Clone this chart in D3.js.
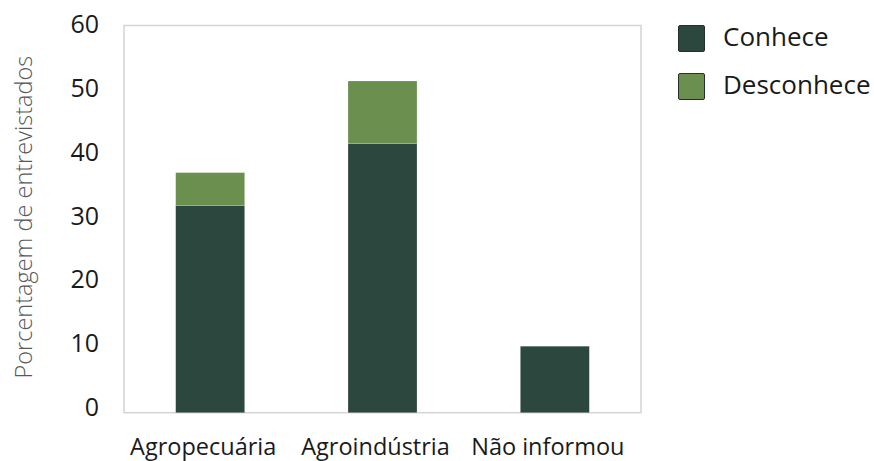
<html>
<head>
  <meta charset="utf-8">
  <script src="https://cdn.jsdelivr.net/npm/d3@7"></script>
  <style>
    body { margin: 0; background: #fff; }
    text { font-family: "Open Sans", sans-serif; }
  </style>
</head>
<body>
  <div id="content"></div>
  <script>
    // data
    categories = ["Agropecuária", "Agroindústria", "Não informou"]
    conhece = [32.1, 41.7, 10.3]
    desconhece = [5.1, 9.7, 0]
    seriesNames = ["Conhece", "Desconhece"]
    yTicks = [0, 10, 20, 30, 40, 50, 60]

    colors = ["#2c473e", "#6a8f4e"]
    width = 874
    height = 461
    margin = {top: 25.5, right: 233, bottom: 48.3, left: 124}

    const svg = d3.select("#content").append("svg")
      .attr("width", width)
      .attr("height", height);

    const x = d3.scaleBand()
      .domain(categories)
      .range([margin.left, width - margin.right])
      .paddingInner(0.6)
      .paddingOuter(0.3);

    const y = d3.scaleLinear()
      .domain([0, 60])
      .range([height - margin.bottom, margin.top]);

    // plot frame
    svg.append("rect")
      .attr("x", x.range()[0])
      .attr("y", y(60))
      .attr("width", x.range()[1] - x.range()[0])
      .attr("height", y(0) - y(60))
      .attr("fill", "none")
      .attr("stroke", "#d4d4d4")
      .attr("stroke-width", 1.5);

    const rows = categories.map((c, i) => ({cat: c, Conhece: conhece[i], Desconhece: desconhece[i]}));
    const stacked = d3.stack().keys(seriesNames)(rows);

    svg.append("g")
      .selectAll("g")
      .data(stacked)
      .join("g")
      .attr("fill", (d, i) => colors[i])
      .selectAll("rect")
      .data(d => d.filter(p => p[1] - p[0] > 0))
      .join("rect")
      .attr("x", d => x(d.data.cat))
      .attr("width", x.bandwidth())
      .attr("y", d => y(d[1]))
      .attr("height", d => y(d[0]) - y(d[1]))
      .attr("stroke", "rgba(255,255,255,0.25)")
      .attr("stroke-width", 0.6);

    // y axis labels (no line, no ticks)
    const yAxis = svg.append("g")
      .attr("transform", `translate(${margin.left - 25},0)`)
      .call(d3.axisLeft(y).tickValues(yTicks).tickSize(0).tickPadding(0));
    yAxis.select(".domain").remove();
    yAxis.selectAll("text")
      .attr("font-family", "Open Sans")
      .attr("font-size", 25)
      .attr("fill", "#1a1a1a")
      .attr("dy", d => (-1.5 - (60 - d) / 60 * 4.2 + 8.5) + "px");

    // x axis labels
    const xAxis = svg.append("g")
      .attr("transform", `translate(0,${y(0)})`)
      .call(d3.axisBottom(x).tickSize(0).tickPadding(0));
    xAxis.select(".domain").remove();
    xAxis.selectAll("text")
      .attr("font-family", "Open Sans")
      .attr("font-size", 23.5)
      .attr("fill", "#1a1a1a")
      .attr("dx", -7)
      .attr("dy", "1.8em");

    // y title
    svg.append("text")
      .attr("transform", `translate(32,${(y(0) + y(60)) / 2 - 2}) rotate(-90)`)
      .attr("text-anchor", "middle")
      .attr("font-size", 23.5)
      .attr("font-weight", 300)
      .attr("fill", "#595959")
      .text("Porcentagem de entrevistados");

    // legend
    const legend = svg.append("g")
      .selectAll("g")
      .data(seriesNames)
      .join("g")
      .attr("transform", (d, i) => `translate(678,${25 + i * 48})`);
    legend.append("rect")
      .attr("x", 0.5).attr("y", 0.5)
      .attr("width", 26).attr("height", 26)
      .attr("rx", 1.5)
      .attr("fill", (d, i) => colors[i])
      .attr("stroke", "#223229")
      .attr("stroke-width", 1);
    legend.append("text")
      .attr("x", 45)
      .attr("y", 21)
      .attr("font-size", 26)
      .attr("fill", "#1a1a1a")
      .text(d => d);
  </script>
</body>
</html>
